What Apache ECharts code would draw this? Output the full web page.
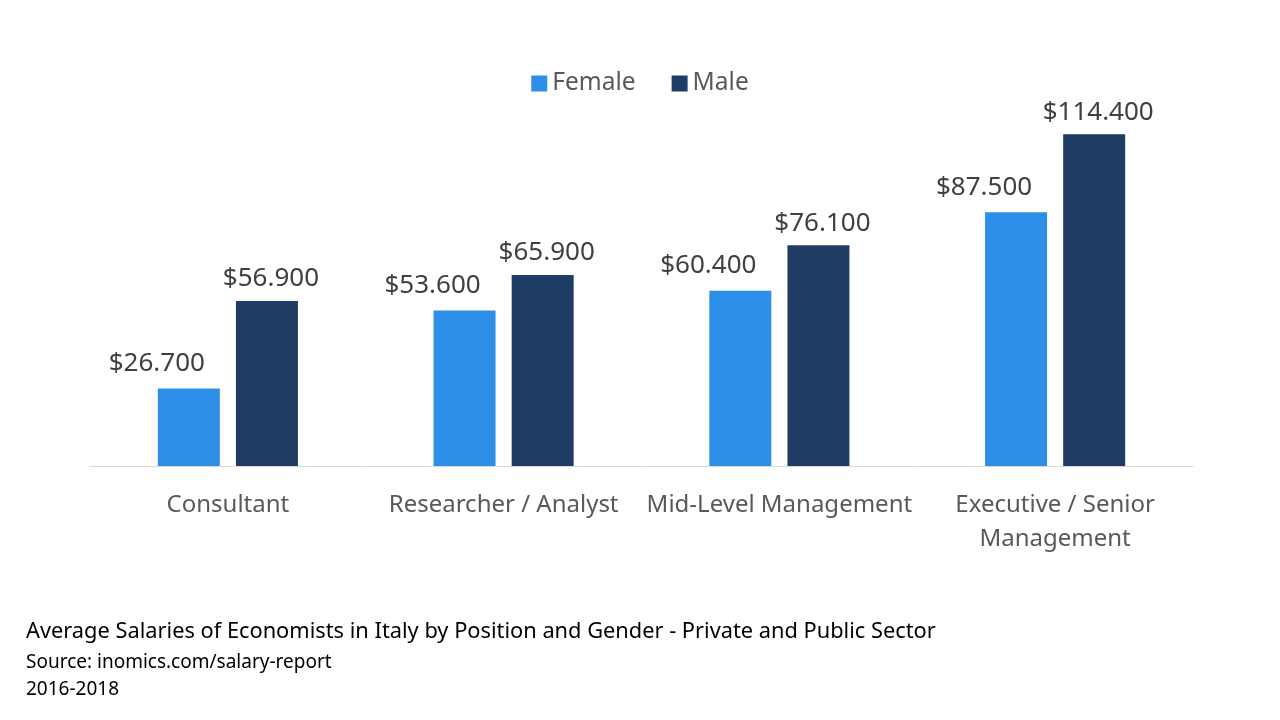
<!DOCTYPE html>
<html>
<head>
<meta charset="utf-8">
<script src="https://cdn.jsdelivr.net/npm/echarts@6/dist/echarts.min.js"></script>
<style>
  html, body { margin: 0; padding: 0; background: #fff; }
  #chart { width: 1280px; height: 720px; }
</style>
</head>
<body>
<div id="chart"></div>
<script>
const categories = [
    "Consultant",
    "Researcher / Analyst",
    "Mid-Level Management",
    "Executive / Senior\nManagement"
];
const female = [26700, 53600, 60400, 87500];
const male = [56900, 65900, 76100, 114400];

// 26.700 style: dot as thousands separator
const formatMoney = v => "$" + v.toLocaleString("de-DE");

const font = "Noto Sans";
const chart = echarts.init(document.getElementById("chart"));

chart.setOption({
    animation: false,
    textStyle: { fontFamily: font },
    title: [
        {
            text: "Average Salaries of Economists in Italy by Position and Gender - Private and Public Sector",
            left: 21,
            top: 616,
            textStyle: { fontFamily: font, fontSize: 21.8, fontWeight: "normal", color: "#000" }
        },
        {
            text: "Source: inomics.com/salary-report",
            left: 21,
            top: 648,
            textStyle: { fontFamily: font, fontSize: 19, fontWeight: "normal", color: "#000" }
        },
        {
            text: "2016-2018",
            left: 21,
            top: 675,
            textStyle: { fontFamily: font, fontSize: 19, fontWeight: "normal", color: "#000" }
        }
    ],
    legend: {
        top: 66,
        left: "center",
        itemWidth: 16,
        itemHeight: 16,
        itemGap: 36,
        icon: "rect",
        textStyle: { fontFamily: font, fontSize: 24.5, color: "#595959" },
        data: ["Female", "Male"]
    },
    grid: { left: 90, right: 87, top: 118, bottom: 254 },
    xAxis: {
        type: "category",
        data: categories,
        axisTick: { show: false },
        axisLine: { lineStyle: { color: "#d9d9d9", width: 1 } },
        axisLabel: {
            fontFamily: font,
            fontSize: 24,
            color: "#595959",
            margin: 22,
            lineHeight: 34,
            interval: 0
        }
    },
    yAxis: {
        type: "value",
        min: 0,
        max: 120000,
        show: false,
        splitLine: { show: false }
    },
    series: [
        {
            name: "Female",
            type: "bar",
            data: female,
            barWidth: 62,
            barGap: "26%",
            itemStyle: { color: "#2E8FE9" },
            label: {
                show: true,
                position: "top",
                distance: 12,
                offset: [-32, 0],
                fontFamily: font,
                fontSize: 26,
                color: "#404040",
                formatter: p => formatMoney(p.value)
            }
        },
        {
            name: "Male",
            type: "bar",
            data: male,
            barWidth: 62,
            itemStyle: { color: "#1F3D64" },
            label: {
                show: true,
                position: "top",
                distance: 9,
                offset: [4, 0],
                fontFamily: font,
                fontSize: 26,
                color: "#404040",
                formatter: p => formatMoney(p.value)
            }
        }
    ]
});
</script>
</body>
</html>
